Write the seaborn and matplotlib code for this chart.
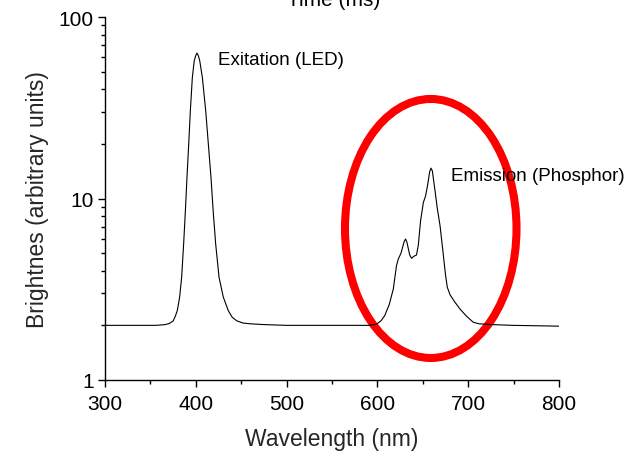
import matplotlib
matplotlib.use("Agg")
import matplotlib.pyplot as plt
import matplotlib.ticker as mticker
from matplotlib.patches import Ellipse
import seaborn as sns
import pandas as pd

# ---- data ----
wavelength_nm = [300, 320, 340, 355, 362, 366, 369.7, 373, 375.2, 377.5, 379.6,
                 382.2, 384.4, 386.6, 388.5, 390.3, 392.2, 394, 396.2, 398.3,
                 399.9, 401.3, 402.8, 404.3, 407.2, 410.9, 413.8, 416.7, 419.3,
                 421.9, 425.6, 430.3, 435.8, 440, 445, 452, 460, 475, 500, 550,
                 590, 599, 604, 608, 613, 617.5, 621, 623, 626, 629.5, 631,
                 632.5, 635.5, 637.6, 640, 643, 645, 647.5, 650.6, 653, 655.5,
                 657.5, 659, 660.5, 663.5, 666, 669, 672, 675, 677, 680, 685,
                 691, 698, 705.6, 712, 725, 750, 800]
brightness = [2.0, 2.0, 2.0, 2.0, 2.01, 2.02, 2.04, 2.08, 2.12, 2.25, 2.41,
              2.86, 3.68, 5.61, 8.5, 13.1, 20.0, 30.5, 46.5, 57.5,
              61.2, 63.3, 61.2, 57.5, 46.5, 30.5, 20.0, 13.1, 8.3,
              5.61, 3.68, 2.86, 2.41, 2.22, 2.12, 2.06, 2.04, 2.02, 2.0, 2.0,
              2.0, 2.03, 2.12, 2.26, 2.6, 3.17, 4.26, 4.64, 5.0, 5.8, 5.98,
              5.75, 4.9, 4.68, 4.8, 4.88, 5.5, 7.5, 9.5, 10.3, 12.0,
              14.0, 14.7, 14.2, 11.0, 8.8, 7.08, 5.2, 3.8, 3.24, 2.95, 2.7,
              2.46, 2.25, 2.08, 2.04, 2.02, 2.0, 1.98]

x_ticks = [300, 400, 500, 600, 700, 800]
y_ticks = [1, 10, 100]
y_tick_labels = ["1", "10", "100"]
annotations = ["Exitation (LED)", "Emission (Phosphor)"]
annotation_x = [424.4, 681]
annotation_y = [55.1, 12.7]

df = pd.DataFrame({"Wavelength": wavelength_nm, "Brightness": brightness})

sns.set_style("ticks")
plt.rcParams["font.family"] = ["Liberation Sans", "DejaVu Sans"]

fig = plt.figure(figsize=(6.29, 4.52), dpi=100)
ax = fig.add_axes([105 / 629, 71 / 452, 454 / 629, 363 / 452])

sns.lineplot(data=df, x="Wavelength", y="Brightness", ax=ax, color="black",
             linewidth=0.8, sort=False, estimator=None)

ax.set_yscale("log")
ax.set_xlim(300, 800)
ax.set_ylim(1, 100)
ax.set_xticks(x_ticks)
ax.set_xticks(range(350, 800, 100), minor=True)
ax.set_yticks(y_ticks)
ax.set_yticklabels(y_tick_labels)
ax.yaxis.set_minor_locator(mticker.LogLocator(base=10, subs=range(2, 10)))
ax.yaxis.set_minor_formatter(mticker.NullFormatter())

for s in ["top", "right"]:
    ax.spines[s].set_visible(False)
for s in ["left", "bottom"]:
    ax.spines[s].set_linewidth(1.0)
    ax.spines[s].set_color("black")

ax.tick_params(axis="both", which="major", length=5, width=1.0, labelsize=15,
               pad=3, color="black", labelcolor="black", direction="out")
ax.tick_params(axis="x", which="major", pad=5)
ax.tick_params(axis="both", which="minor", length=3, width=1.0, color="black",
               direction="out")

ax.set_xlabel("Wavelength (nm)", fontsize=16.5, labelpad=10.5)
ax.set_ylabel("Brightnes (arbitrary units)", fontsize=16.5, labelpad=7)

for t, xv, yv in zip(annotations, annotation_x, annotation_y):
    ax.text(xv, yv, t, fontsize=13.5, ha="left", va="baseline", color="black")

ell = Ellipse((0.7175, 0.4174), 0.3778, 0.7135, transform=ax.transAxes,
              fill=False, edgecolor="#ff0000", linewidth=5.8, clip_on=False)
ax.add_patch(ell)

fig.text(334 / 629, 1 - 1 / 452, "Time (ms)", fontsize=15, ha="center",
         va="center", color="black")

fig.savefig("out.png", dpi=100, facecolor="white")
